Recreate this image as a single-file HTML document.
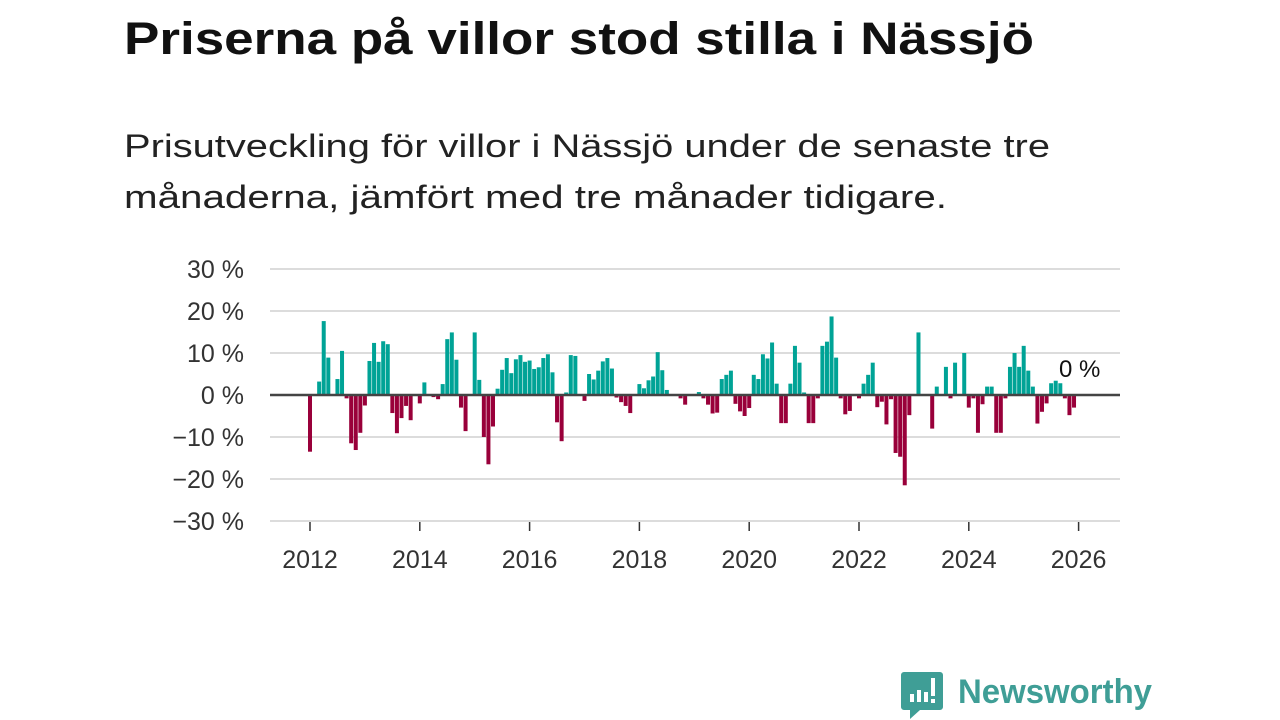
<!DOCTYPE html>
<html><head><meta charset="utf-8"><style>
html,body{margin:0;padding:0;background:#fff;width:1280px;height:720px;overflow:hidden}
svg{display:block;font-family:"Liberation Sans",sans-serif}
</style></head><body>
<svg id="chart" width="1280" height="720" viewBox="0 0 1280 720" xmlns="http://www.w3.org/2000/svg">
<text x="124" y="54" font-size="45" font-weight="bold" fill="#111" textLength="910" lengthAdjust="spacingAndGlyphs">Priserna på villor stod stilla i Nässjö</text>
<text x="124" y="157" font-size="32" fill="#222" textLength="926" lengthAdjust="spacingAndGlyphs">Prisutveckling för villor i Nässjö under de senaste tre</text>
<text x="124" y="208" font-size="32" fill="#222" textLength="823" lengthAdjust="spacingAndGlyphs">månaderna, jämfört med tre månader tidigare.</text>
<g id="grid"></g><g id="bars"></g><g id="axes"></g>
<g>
<path d="M904 672 h36 a3 3 0 0 1 3 3 v32 a3 3 0 0 1 -3 3 h-20 l-10 9 v-9 h-6 a3 3 0 0 1 -3 -3 v-32 a3 3 0 0 1 3 -3z" fill="#3f9e96"/>
<rect x="910" y="694" width="4" height="8" fill="#fff"/><rect x="917" y="690" width="4" height="12" fill="#fff"/><rect x="924" y="692" width="4" height="10" fill="#fff"/><rect x="931" y="678" width="4" height="18" fill="#fff"/><rect x="931" y="699" width="4" height="4" fill="#fff"/>
<text x="958" y="703" font-size="34" font-weight="bold" fill="#3f9e96" textLength="194" lengthAdjust="spacingAndGlyphs">Newsworthy</text>
</g>
</svg>
<script>
const values = [-13.5,0,3.2,17.6,8.9,0,3.8,10.5,-0.8,-11.5,-13.1,-9,-2.5,8.1,12.4,7.9,12.8,12.1,-4.3,-9.1,-5.5,-2.6,-6,0,-2,3,0,-0.5,-1,2.6,13.3,14.9,8.4,-3,-8.6,0,14.9,3.6,-10,-16.5,-7.5,1.5,6,8.8,5.2,8.5,9.5,7.9,8.2,6.2,6.6,8.8,9.7,5.4,-6.5,-11,0.6,9.5,9.3,0,-1.4,5,3.7,5.8,8,8.8,6.3,-0.6,-1.7,-2.6,-4.3,0,2.6,1.6,3.5,4.4,10.2,5.9,1.2,0,0,-0.8,-2.3,0,0,0.7,-0.8,-2.3,-4.4,-4.2,3.8,4.8,5.8,-2.1,-3.9,-5,-3.1,4.8,3.8,9.7,8.7,12.5,2.7,-6.7,-6.7,2.7,11.7,7.7,0.6,-6.7,-6.7,-0.8,11.7,12.7,18.7,8.9,-0.8,-4.6,-3.8,0,-0.8,2.7,4.8,7.7,-2.9,-1.6,-7,-1,-13.8,-14.7,-21.5,-4.8,0,14.9,0,0,-8,2,0,6.7,-0.8,7.7,0,10,-3,-0.8,-9,-2.2,2,2,-9,-9,-0.8,6.7,10,6.7,11.7,5.8,2,-6.8,-4,-2,2.8,3.4,2.8,-0.8,-4.8,-3];
const startYear = 2012;
const yTicks = [30,20,10,0,-10,-20,-30];
const yTickLabels = ["30 %","20 %","10 %","0 %","\u221210 %","\u221220 %","\u221230 %"];
const xTickYears = [2012,2014,2016,2018,2020,2022,2024,2026];
const lastLabel = "0 %";

const NS="http://www.w3.org/2000/svg";
const x0=310, monthW=109.8/24, plotL=270, plotR=1120;
const yZero=395, yUnit=4.2;
const xScale = m => x0 + m*monthW;
const yScale = v => yZero - v*yUnit;
function mk(tag, attrs, parent){const e=document.createElementNS(NS,tag);for(const k in attrs)e.setAttribute(k,attrs[k]);parent.appendChild(e);return e;}
const grid=document.getElementById('grid'), bars=document.getElementById('bars'), axes=document.getElementById('axes');
yTicks.forEach((t,i)=>{
  const y=yScale(t);
  if(t!==0){const l=mk('line',{x1:plotL,x2:plotR,y1:y,y2:y,stroke:'#dcdcdc','stroke-width':2},grid);
  
  }
  const tx=mk('text',{x:244,y:y+9,'text-anchor':'end','font-size':25,fill:'#333'},axes);
  tx.textContent=yTickLabels[i];
  
  
});
values.forEach((v,m)=>{
  if(v===0)return;
  const cx=xScale(m), y=yScale(Math.max(v,0)), h=Math.abs(v)*yUnit;
  const r=mk('rect',{x:cx-2,y:y,width:4,height:h,fill:v>0?'#00a396':'#99003a'},bars);
  
  
});
const z=mk('line',{x1:plotL,x2:plotR,y1:yZero,y2:yZero,stroke:'#444','stroke-width':2.5},axes);


xTickYears.forEach(yr=>{
  const x=xScale((yr-startYear)*12);
  const t=mk('line',{x1:x,x2:x,y1:522,y2:531,stroke:'#333','stroke-width':1.5},axes);
  
  
  const tx=mk('text',{x:x,y:568,'text-anchor':'middle','font-size':25,fill:'#333'},axes);
  tx.textContent=yr;
  
  
});
const lb=mk('line',{x1:plotL,x2:plotR,y1:521,y2:521,stroke:'#dcdcdc','stroke-width':2},grid);


const ll=mk('text',{x:xScale(values.length-1)-15,y:377,'font-size':24,fill:'#111'},axes);
ll.textContent=lastLabel;


</script>
</body></html>
